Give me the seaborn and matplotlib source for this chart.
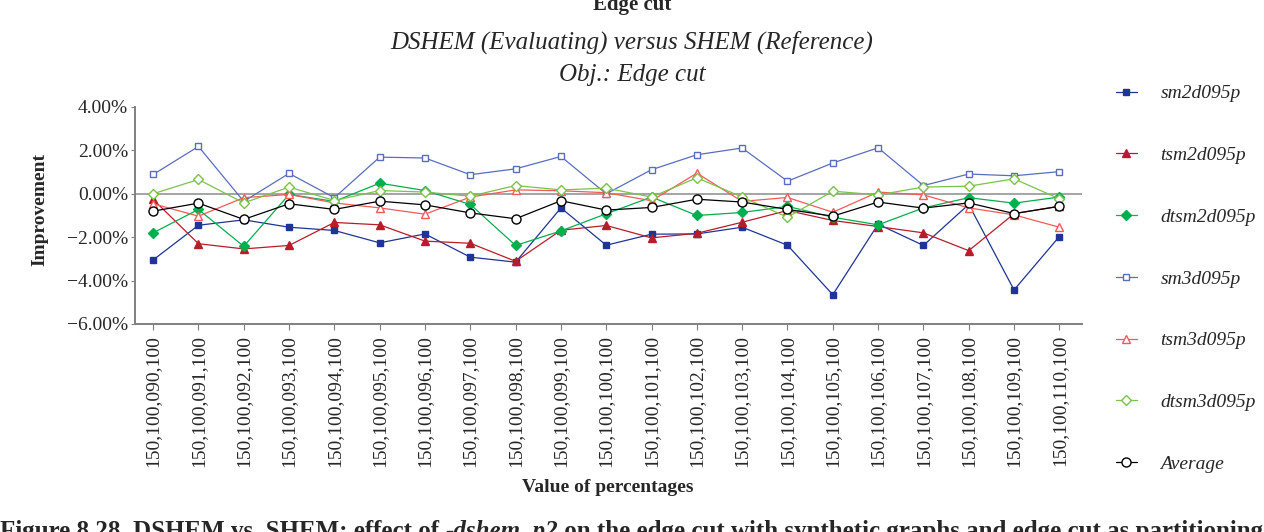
import numpy as np
import pandas as pd
import matplotlib
matplotlib.use("Agg")
import matplotlib.pyplot as plt
import seaborn as sns
from matplotlib.ticker import FuncFormatter

# x categories (percentage settings)
categories = [
    "150,100,090,100", "150,100,091,100", "150,100,092,100", "150,100,093,100",
    "150,100,094,100", "150,100,095,100", "150,100,096,100", "150,100,097,100",
    "150,100,098,100", "150,100,099,100", "150,100,100,100", "150,100,101,100",
    "150,100,102,100", "150,100,103,100", "150,100,104,100", "150,100,105,100",
    "150,100,106,100", "150,100,107,100", "150,100,108,100", "150,100,109,100",
    "150,100,110,100",
]

# improvement in percent
sm2d095p = [-3.05, -1.45, -1.20, -1.54, -1.69, -2.26, -1.85, -2.92, -3.15, -0.65, -2.37,
            -1.86, -1.85, -1.54, -2.37, -4.65, -1.40, -2.38, -0.49, -4.43, -1.97]
tsm2d095p = [-0.26, -2.30, -2.54, -2.38, -1.32, -1.43, -2.18, -2.28, -3.11, -1.68, -1.46,
             -2.03, -1.82, -1.31, -0.77, -1.23, -1.51, -1.80, -2.62, -0.92, -0.57]
dtsm2d095p = [-1.80, -0.72, -2.42, -0.03, -0.35, 0.49, 0.15, -0.49, -2.38, -1.71, -0.92,
              -0.15, -1.00, -0.86, -0.58, -1.08, -1.43, -0.65, -0.18, -0.43, -0.15]
sm3d095p = [0.89, 2.18, -0.35, 0.94, -0.18, 1.69, 1.65, 0.88, 1.15, 1.72, 0.00,
            1.11, 1.80, 2.11, 0.58, 1.42, 2.12, 0.38, 0.91, 0.83, 1.02]
tsm3d095p = [-0.46, -1.03, -0.18, -0.03, -0.42, -0.65, -0.94, -0.15, 0.18, 0.14, 0.05,
             -0.32, 0.95, -0.35, -0.17, -0.85, 0.08, -0.05, -0.65, -0.97, -1.54]
dtsm3d095p = [0.00, 0.66, -0.42, 0.31, -0.31, 0.15, 0.08, -0.11, 0.38, 0.18, 0.26,
              -0.15, 0.74, -0.15, -1.08, 0.12, -0.05, 0.31, 0.35, 0.69, -0.23]
average = [-0.80, -0.43, -1.18, -0.46, -0.72, -0.34, -0.51, -0.88, -1.15, -0.32, -0.75,
           -0.63, -0.25, -0.38, -0.72, -1.03, -0.38, -0.66, -0.42, -0.91, -0.58]

series_names = ["sm2d095p", "tsm2d095p", "dtsm2d095p", "sm3d095p", "tsm3d095p", "dtsm3d095p", "Average"]
series_values = [sm2d095p, tsm2d095p, dtsm2d095p, sm3d095p, tsm3d095p, dtsm3d095p, average]

# style for each series: colour, marker, filled, size
styles = {
    "sm2d095p": ("#1f3494", "s", True, 5),
    "tsm2d095p": ("#b81c2a", "^", True, 6),
    "dtsm2d095p": ("#00b04f", "D", True, 5),
    "sm3d095p": ("#5a6cc0", "s", False, 5),
    "tsm3d095p": ("#f25a5a", "^", False, 6),
    "dtsm3d095p": ("#7cc24a", "D", False, 5),
    "Average": ("#000000", "o", False, 6.5),
}

rows = []
for name, vals in zip(series_names, series_values):
    for i, v in enumerate(vals):
        rows.append({"series": name, "pos": i, "value": v})
df = pd.DataFrame(rows)

sns.set_style("white")
plt.rcParams['font.family'] = ['Liberation Serif', 'DejaVu Serif']
plt.rcParams['axes.unicode_minus'] = True

fig = plt.figure(figsize=(12.64, 5.32), dpi=100)
ax = fig.add_axes([135 / 1264, 1 - 324 / 532, (1082 - 135) / 1264, (324 - 107) / 532])

ax.axhline(0, color="#8c8c8c", lw=1.1, zorder=1)

for name in series_names:
    color, marker, filled, ms = styles[name]
    sub = df[df["series"] == name]
    sns.lineplot(data=sub, x="pos", y="value", ax=ax, color=color, lw=0.9,
                 marker=marker, markersize=ms, markeredgecolor=color,
                 markerfacecolor=color if filled else "white",
                 markeredgewidth=1.0, label=name, legend=False, zorder=3)

ax.set_xlim(-0.4, len(categories) - 0.5)
ax.set_ylim(-6, 4)
ax.set_yticks(np.arange(-6, 4.1, 2))
ax.yaxis.set_major_formatter(FuncFormatter(lambda v, p: f"{v:.2f}%".replace("-", "\u2212")))
ax.set_xticks(range(len(categories)))
ax.set_xticklabels(categories, rotation=90, fontsize=14)
ax.tick_params(axis="y", labelsize=14, length=3, color="#808080", direction="out", left=True, pad=2)
ax.tick_params(axis="x", length=4, color="#808080", direction="out", bottom=True, pad=4)

for s in ["top", "right"]:
    ax.spines[s].set_visible(False)
for s in ["left", "bottom"]:
    ax.spines[s].set_color("#808080")
    ax.spines[s].set_linewidth(1.4)

ax.set_xlabel("")
ax.set_ylabel("")
fig.text(40 / 1264, 1 - 210 / 532, "Improvement", rotation=90, ha="center", va="center",
         fontsize=14, fontweight="bold")
fig.text(608 / 1264, 1 - 487 / 532, "Value of percentages", ha="center", va="center",
         fontsize=14, fontweight="bold")

# titles
fig.text(632 / 1264, 1 - 5 / 532, "Edge cut", ha="center", va="center", fontsize=15, fontweight="bold")
fig.text(632 / 1264, 1 - 42 / 532, "DSHEM (Evaluating) versus SHEM (Reference)", ha="center",
         va="center", fontsize=18, style="italic")
fig.text(632 / 1264, 1 - 75 / 532, "Obj.: Edge cut", ha="center", va="center", fontsize=18, style="italic")

# legend
handles, labels = ax.get_legend_handles_labels()
leg = fig.legend(handles, labels, loc="upper left", bbox_to_anchor=(1106 / 1264, 1 - 75 / 532),
                 frameon=False, fontsize=14, labelspacing=2.27, handlelength=1.1,
                 handletextpad=1.2, borderpad=0)
for t in leg.get_texts():
    t.set_fontstyle("italic")

# caption (partially cut off at bottom, as in the source page)
t1 = fig.text(0.0, 1 - 538 / 532, "Figure 8.28. DSHEM vs. SHEM: effect of ", ha="left", va="baseline",
              fontsize=18, fontweight="bold")
t2 = ax.annotate("-dshem_p2", xy=(1, 0), xycoords=t1, ha="left", va="bottom",
                 fontsize=18, fontweight="bold", style="italic", annotation_clip=False)
ax.annotate(" on the edge cut with synthetic graphs and edge cut as partitioning objective",
            xy=(1, 0), xycoords=t2, ha="left", va="bottom", fontsize=18, fontweight="bold",
            annotation_clip=False)

fig.savefig("out.png", dpi=100)
plt.close(fig)
